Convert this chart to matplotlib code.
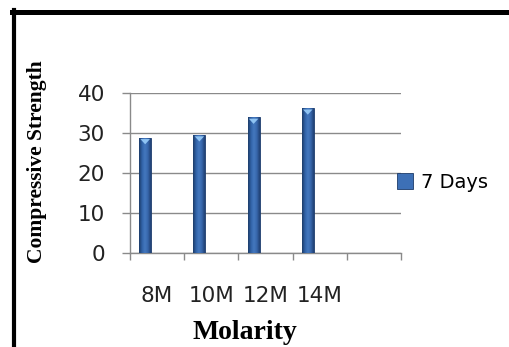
import numpy as np
import matplotlib.pyplot as plt
from matplotlib.colors import LinearSegmentedColormap
from matplotlib.lines import Line2D
from matplotlib.patches import Patch

# Data
molarity = ['8M', '10M', '12M', '14M', '']
strength = [28.7, 29.4, 33.8, 36.1]
series_name = '7 Days'

plt.rcParams['font.family'] = ['DejaVu Sans']

fig = plt.figure(figsize=(5.09, 3.47), dpi=100)
ax = fig.add_axes([0.2554, 0.2718, 0.5324, 0.4611])

slots = np.arange(len(molarity))
bar_x = slots[:len(strength)] + 0.28
bar_w = 0.22

# shaded cylinder look: dark edges, lighter middle
shade = LinearSegmentedColormap.from_list(
    'shade', ['#1c3a66', '#3163a8', '#4479bf', '#3766ab', '#1f4072'])
grad = np.linspace(0, 1, 64).reshape(1, -1)

bars = ax.bar(bar_x, strength, width=bar_w, color='#3a6cb2',
              edgecolor='#1d3b69', linewidth=0.6, zorder=3)
for b in bars:
    x0, w, h = b.get_x(), b.get_width(), b.get_height()
    im = ax.imshow(grad, cmap=shade, aspect='auto', zorder=3.5,
                   extent=[x0, x0 + w, 0, h], interpolation='bicubic')
    im.set_clip_path(b)
    # bevel on the top face
    ax.fill([x0 + w * 0.1, x0 + w * 0.9, x0 + w / 2],
            [h - 0.3, h - 0.3, h - 1.6], color='#8fc3f2', zorder=4, lw=0)

ax.set_xlim(0, len(molarity))
ax.set_ylim(0, 40)
ax.set_yticks([0, 10, 20, 30, 40])
ax.set_xticks(np.append(slots, len(molarity)))
ax.set_xticklabels([])
ax.set_xticks(slots + 0.5, minor=True)
ax.set_xticklabels(molarity, minor=True)

ax.grid(axis='y', color='#8a8a8a', linewidth=1.0, zorder=0)
for s in ['top', 'right']:
    ax.spines[s].set_visible(False)
for s in ['left', 'bottom']:
    ax.spines[s].set_color('#8a8a8a')
    ax.spines[s].set_linewidth(1.0)

ax.tick_params(axis='y', length=6, color='#8a8a8a', width=1.0,
               labelsize=15.5, pad=12, labelcolor='#222222')
ax.tick_params(axis='x', which='major', length=5, color='#8a8a8a', width=1.0)
ax.tick_params(axis='x', which='minor', length=0, labelsize=15.5, pad=24,
               labelcolor='#222222')

fig.text(0.073, 0.533, 'Compressive Strength', rotation=90, ha='center',
         va='center', family='Liberation Serif', fontweight='bold', fontsize=15.5)
fig.text(0.481, 0.043, 'Molarity', ha='center', va='center',
         family='Liberation Serif', fontweight='bold', fontsize=20)

handle = Patch(facecolor='#3d70b6', edgecolor='#1d3b69', linewidth=0.6)
ax.legend([handle], [series_name], loc='center left', frameon=False,
          bbox_to_anchor=(0.955, 0.44), fontsize=14, handlelength=0.85,
          handleheight=0.85, handletextpad=0.4, borderaxespad=0)

# frame lines along the left and top edges
fig.add_artist(Line2D([0.0275, 0.0275], [0.0, 0.97], color='black',
                      linewidth=3.0, transform=fig.transFigure))
fig.add_artist(Line2D([0.0236, 1.0], [0.964, 0.964], color='black',
                      linewidth=3.6, transform=fig.transFigure))

fig.savefig('out.png', dpi=100)
